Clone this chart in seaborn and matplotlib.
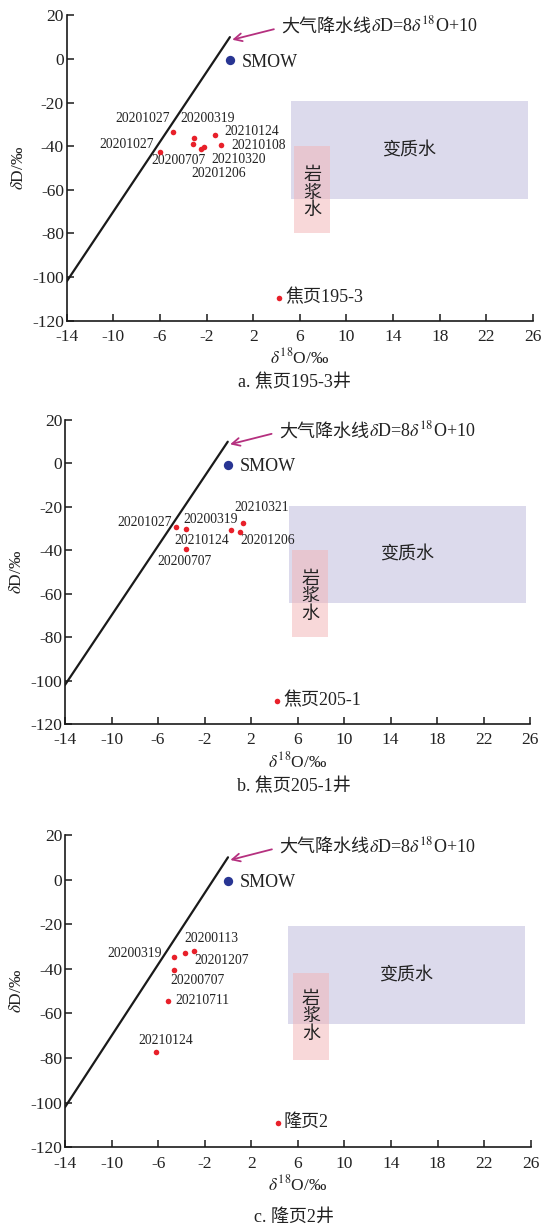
import numpy as np
import pandas as pd
import seaborn as sns
import matplotlib.pyplot as plt
from matplotlib.patches import Rectangle

# ---- data ----
mwl_o18 = [-14, 0]
mwl_dD = [-102, 10]

smow_o18 = [0.0]
smow_dD = [-0.5]

# panel a: 焦页195-3
a_o18 = [-4.86, -6.0, -3.08, -3.19, -2.46, -2.25, -1.28, -0.77]
a_dD = [-33.6, -42.5, -36.4, -39.0, -41.4, -40.2, -34.8, -39.4]
a_dates = ["20201027", "20201027", "20200319", "20200707",
           "20201206", "20210320", "20210124", "20210108"]
a_well = "焦页195-3"
a_well_pt = (4.23, -109.5)

# panel b: 焦页205-1
b_o18 = [-4.43, -3.59, 0.31, 1.05, 1.31, -3.59]
b_dD = [-29.3, -30.4, -30.8, -31.5, -27.3, -39.6]
b_dates = ["20201027", "20200319", "20210124", "20201206", "20210321", "20200707"]
b_well = "焦页205-1"
b_well_pt = (4.26, -109.3)

# panel c: 隆页2
c_o18 = [-4.61, -3.69, -2.89, -4.61, -5.13, -6.21]
c_dD = [-34.8, -33.0, -32.1, -40.4, -54.3, -77.4]
c_dates = ["20200319", "20200113", "20201207", "20200707", "20210711", "20210124"]
c_well = "隆页2"
c_well_pt = (4.27, -109.0)

# boxes: (x0, x1, y0, y1)
meta_box = [(5.2, 25.6, -64.2, -19.5), (5.27, 25.66, -64.2, -19.6), (5.13, 25.5, -64.6, -20.8)]
magma_box = [(5.5, 8.6, -79.8, -39.9), (5.53, 8.63, -79.8, -39.9), (5.59, 8.65, -80.7, -41.9)]

captions = ["a. 焦页195-3井", "b. 焦页205-1井", "c. 隆页2井"]
x_ticks = [-14, -10, -6, -2, 2, 6, 10, 14, 18, 22, 26]
y_ticks = [20, 0, -20, -40, -60, -80, -100, -120]

# ---- layout (label centres in data units) ----
a_label_xy = [(-7.46, -27.1), (-8.83, -39.4), (-1.9, -27.5), (-4.45, -46.4),
              (-0.94, -52.4), (0.78, -46.0), (1.9, -33.3), (2.5, -39.8)]
b_label_xy = [(-7.18, -27.1), (-1.5, -25.6), (-2.24, -35.7), (3.4, -35.7),
              (2.92, -20.2), (-3.76, -45.0)]
c_label_xy = [(-8.0, -33.0), (-1.47, -26.6), (-0.52, -36.4), (-2.61, -45.3),
              (-2.23, -54.0), (-5.38, -72.3)]

sns.set_style("ticks")
plt.rcParams['font.family'] = ['Liberation Serif', 'Noto Sans CJK SC', 'DejaVu Sans']
plt.rcParams['mathtext.fontset'] = 'stix'
plt.rcParams['axes.unicode_minus'] = False
TXT = '#222222'

fig = plt.figure(figsize=(5.44, 12.26), dpi=100)
W, H = 544.0, 1226.0
# pixel boxes: left, right, top, bottom
boxes_px = [(66.7, 533, 15.3, 320.7), (65, 530, 420, 724), (65, 530.7, 835, 1147.3)]
caption_y = [383, 787, 1217]
panels = [
    (a_o18, a_dD, a_dates, a_label_xy, a_well, a_well_pt),
    (b_o18, b_dD, b_dates, b_label_xy, b_well, b_well_pt),
    (c_o18, c_dD, c_dates, c_label_xy, c_well, c_well_pt),
]

for i, (xs, ys, dates, lxy, well, wpt) in enumerate(panels):
    l, r, t, b = boxes_px[i]
    ax = fig.add_axes([l / W, 1 - b / H, (r - l) / W, (b - t) / H])

    mx0, mx1, my0, my1 = meta_box[i]
    ax.add_patch(Rectangle((mx0, my0), mx1 - mx0, my1 - my0, facecolor='#dcdaec',
                           edgecolor='none', zorder=0))
    gx0, gx1, gy0, gy1 = magma_box[i]
    ax.add_patch(Rectangle((gx0, gy0), gx1 - gx0, gy1 - gy0, facecolor='#f3b3b5',
                           alpha=0.5, edgecolor='none', zorder=1))
    ax.text((mx0 + mx1) / 2, my0 + (my1 - my0) * 0.49, "变质水", ha='center', va='center',
            fontsize=13, color=TXT, zorder=3)
    ax.text((gx0 + gx1) / 2, -61.5, "岩\n浆\n水", ha='center', va='center',
            fontsize=13, color=TXT, linespacing=1.05, zorder=3)

    sns.lineplot(x=mwl_o18, y=mwl_dD, color='#1a1a1a', lw=1.6, ax=ax, zorder=2)

    df = pd.DataFrame({'o18': xs + [wpt[0]], 'dD': ys + [wpt[1]]})
    sns.scatterplot(data=df, x='o18', y='dD', color='#e8202a', s=16, linewidth=0,
                    ax=ax, zorder=4)
    sns.scatterplot(x=smow_o18, y=smow_dD, color='#283593', s=45, linewidth=0,
                    ax=ax, zorder=4)
    ax.text(1.0, -1.5, "SMOW", ha='left', va='center', fontsize=13, color=TXT)
    ax.text(wpt[0] + 0.5, wpt[1], well, ha='left', va='center', fontsize=13, color=TXT)

    for d, (tx, ty) in zip(dates, lxy):
        ax.text(tx, ty, d, ha='center', va='center', fontsize=9.8, color=TXT)

    # MWL label: Chinese part as plain text, formula as mathtext on the same baseline
    base_y = 12.4
    t1 = ax.annotate("大气降水线", xy=(0.2, 8.8), xytext=(4.4, base_y),
                     ha='left', va='baseline', fontsize=13, color=TXT,
                     arrowprops=dict(arrowstyle='->', color='#b5307f', lw=1.3,
                                     relpos=(0, 0.5), shrinkA=3, shrinkB=0,
                                     mutation_scale=14))
    ax.annotate("$\\delta$D=8$\\delta^{18}$O+10", xy=(1, base_y), xycoords=(t1, 'data'),
                ha='left', va='baseline', fontsize=13, color=TXT)

    ax.set_xlim(-14, 26)
    ax.set_ylim(-120, 20)
    ax.set_xticks(x_ticks)
    ax.set_yticks(y_ticks)
    ax.tick_params(direction='in', length=5, width=1.1, labelsize=12.5, colors='#1a1a1a',
                   labelcolor=TXT)
    ax.tick_params(axis='x', pad=6)
    ax.tick_params(axis='y', pad=2)
    for s in ['top', 'right']:
        ax.spines[s].set_visible(False)
    for s in ['left', 'bottom']:
        ax.spines[s].set_linewidth(1.2)
        ax.spines[s].set_color('#1a1a1a')
    ax.set_xlabel("$\\delta^{18}$O/‰", fontsize=12.5, color=TXT, labelpad=2)
    ax.set_ylabel("$\\delta$D/‰", fontsize=12.5, color=TXT)
    ax.yaxis.set_label_coords(-0.085, 0.5)

    fig.text(294 / W, 1 - caption_y[i] / H, captions[i], ha='center', va='center',
             fontsize=13, color=TXT)

fig.savefig("out.png", dpi=100)
